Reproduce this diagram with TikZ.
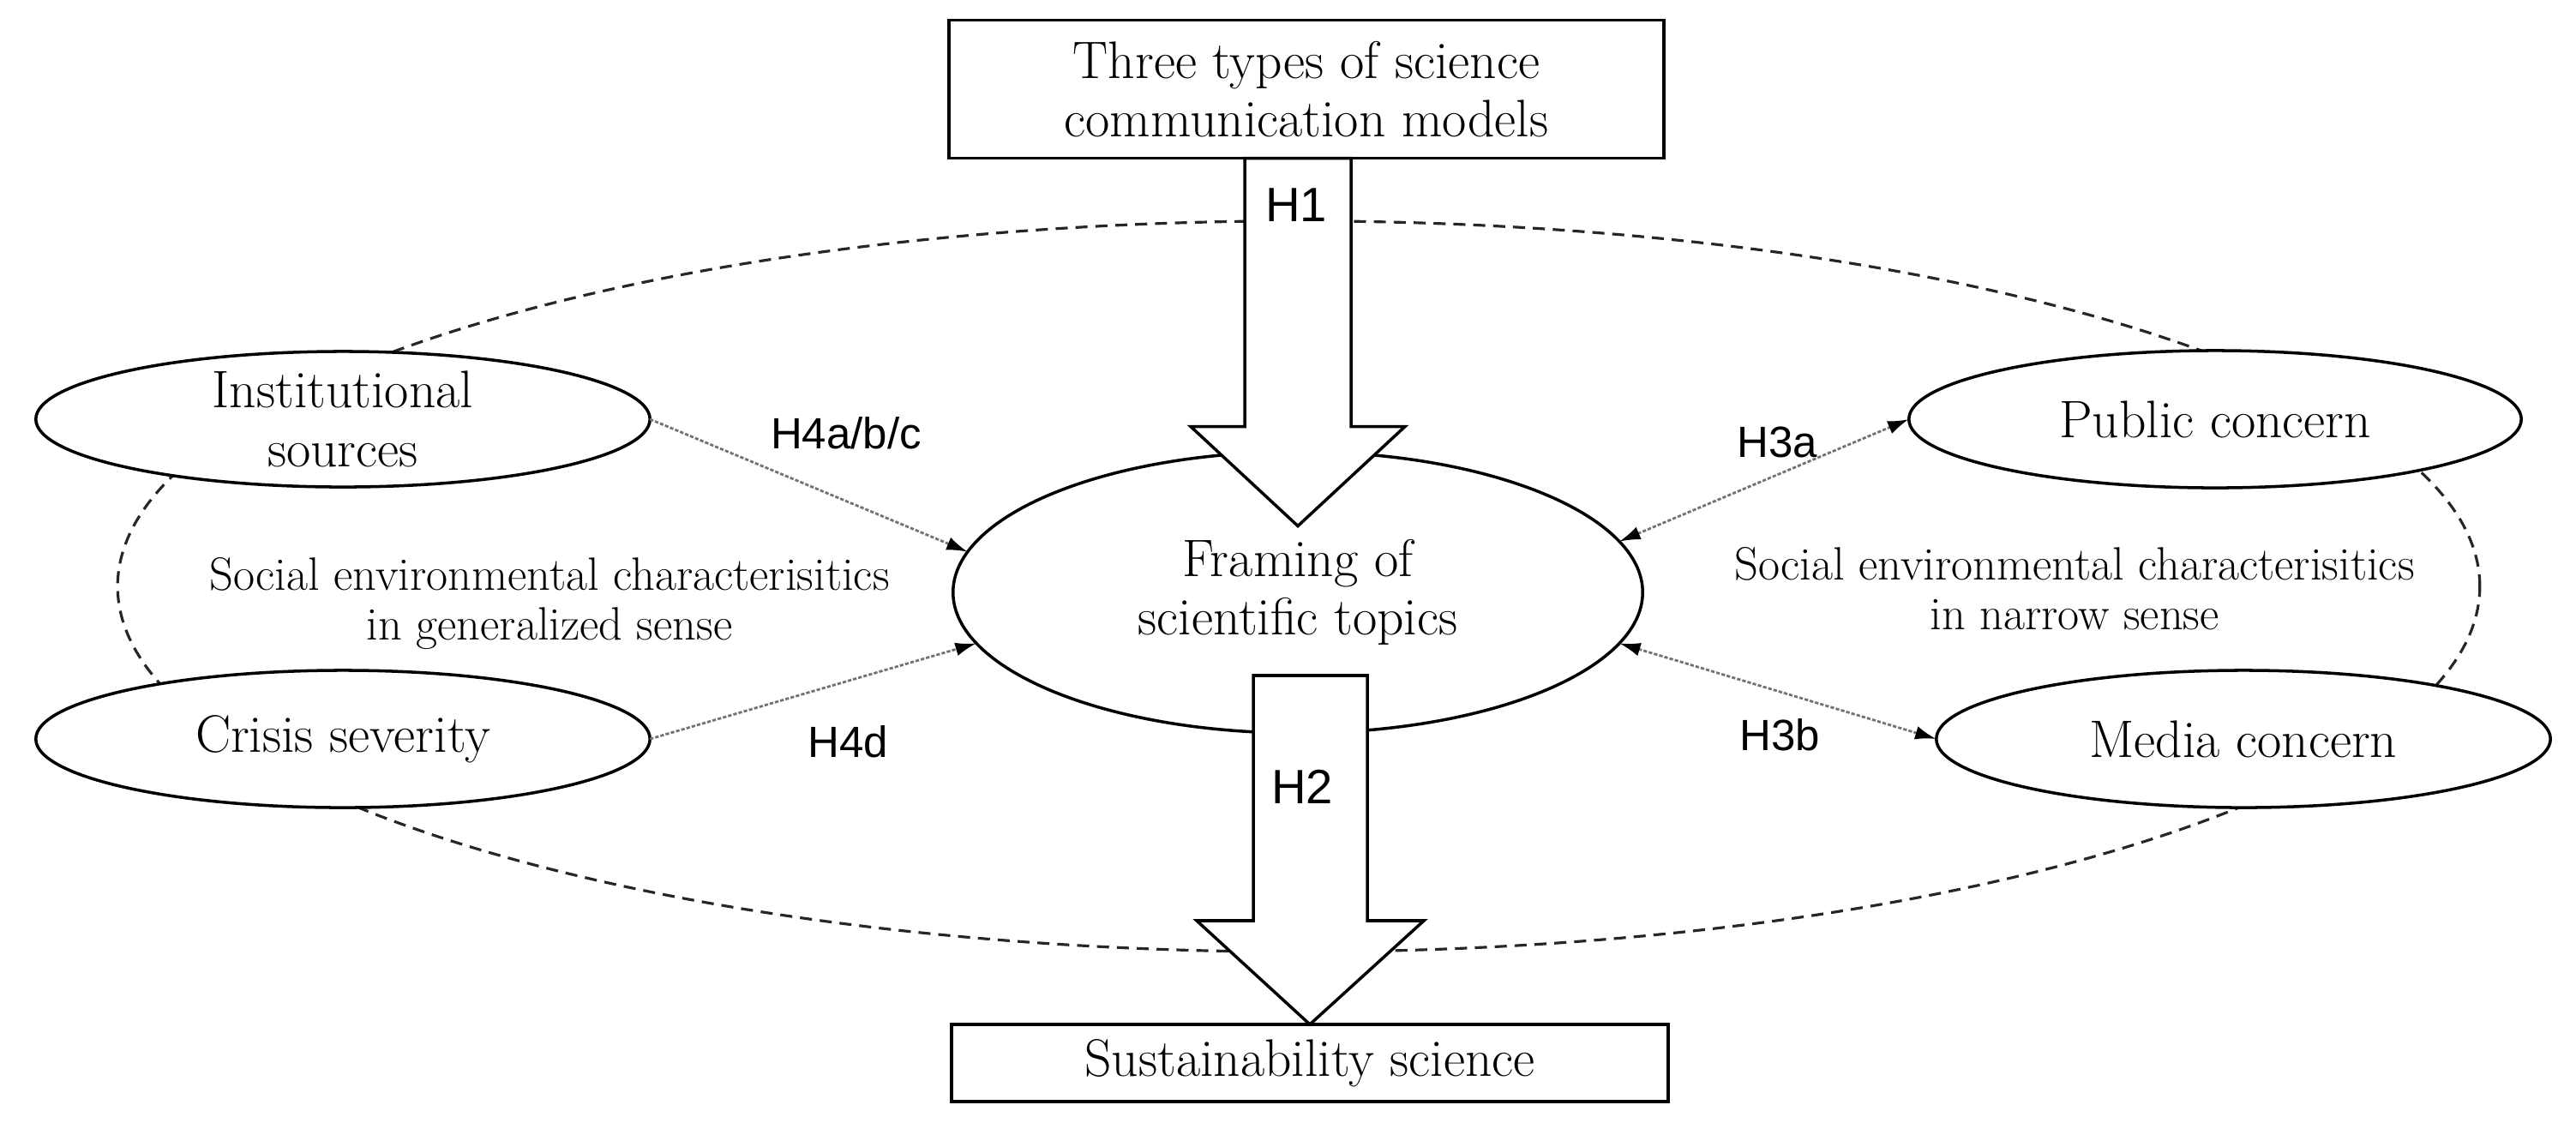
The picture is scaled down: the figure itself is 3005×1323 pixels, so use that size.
\documentclass[tikz,border=0pt]{standalone}
\usepackage{fontspec}
\newfontfamily\hfont{Liberation Sans}
\usetikzlibrary{arrows.meta,calc,shapes.geometric}
\begin{document}
\begin{tikzpicture}[x=0.01cm,y=-0.01cm,
  nodetext/.style={font=\fontsize{17.5}{19.5}\selectfont, align=center},
  boxnode/.style={nodetext, rectangle, draw, line width=1.1pt, fill=white, inner sep=0pt, outer sep=0pt},
  oval/.style={nodetext, ellipse, draw, line width=1pt, fill=white, inner sep=0pt, outer sep=0pt, minimum width=7.16cm, minimum height=1.6cm},
  soctext/.style={font=\fontsize{15.5}{16.5}\selectfont, align=center},
  hlabel/.style={font=\hfont\fontsize{14.5}{17}\selectfont, inner sep=0pt},
  hbig/.style={font=\hfont\fontsize{16}{18}\selectfont, inner sep=0pt},
  bigdash/.style={draw=black!85, line width=0.9pt, dash pattern=on 4pt off 2.6pt},
  blockarrow/.style={draw, line width=1pt, fill=white, line join=miter},
  link/.style={draw=black!55, line width=0.8pt, dash pattern=on 1.2pt off 0.6pt, -{Latex[length=7pt,width=4.5pt,color=black]}},
  linktwo/.style={draw=black!55, line width=0.8pt, dash pattern=on 1.2pt off 0.6pt, {Latex[length=7pt,width=4.5pt,color=black]}-{Latex[length=7pt,width=4.5pt,color=black]}}
]
\useasboundingbox (0,0) rectangle (3005,1323);

% big dashed ellipse (background)
\draw[bigdash] (1515,684) ellipse [x radius=13.77cm, y radius=4.26cm];

% nodes
\node[boxnode, minimum width=8.34cm, minimum height=1.61cm] (top) at (1524,104) {Three types of science\\communication models};
\node[boxnode, minimum width=8.36cm, minimum height=0.9cm] (sus) at (1528,1240) {Sustainability science};
\node[oval, minimum width=8.04cm, minimum height=3.28cm] (fr) at (1514,691) {Framing of\\scientific topics};
\node[oval, minimum height=1.58cm] (inst) at (400,489) {Institutional\\sources};
\node[oval] (cri) at (400,862) {Crisis severity};
\node[oval, minimum width=7.14cm] (pub) at (2584,489) {Public concern};
\node[oval] (med) at (2617,862) {Media concern};

% free texts
\node[soctext] (socl) at (641,704) {Social environmental characterisitics\\in generalized sense};
\node[soctext] (socr) at (2420,687) {Social environmental characterisitics\\in narrow sense};

\node[hlabel] (h4abc) at (987,505) {H4a/b/c};
\node[hlabel] (h4d) at (989,865) {H4d};
\node[hlabel] (h3a) at (2073,516) {H3a};
\node[hlabel] (h3b) at (2076,857) {H3b};

% connectors
\draw[link] (inst.east) -- (fr.173.6);
\draw[link] (cri.east) -- (fr.189.2);
\draw[linktwo] (fr.9.4) -- (pub.west);
\draw[linktwo] (fr.-9.3) -- (med.west);

% block arrows
\draw[blockarrow] ($(fr.center |- top.south)+(-62,0)$) -- ++(0,313) -- ++(-63,0) -- ++(125,116) -- ++(125,-116) -- ++(-63,0) -- ++(0,-313) -- cycle;
\draw[blockarrow] (sus.north) -- ++(-132,-121) -- ++(66,0) -- ++(0,-286) -- ++(133,0) -- ++(0,286) -- ++(66,0) -- cycle;

\node[hbig] (h1) at (1512,239) {H1};
\node[hbig] (h2) at (1519,918) {H2};
\end{tikzpicture}
\end{document}
